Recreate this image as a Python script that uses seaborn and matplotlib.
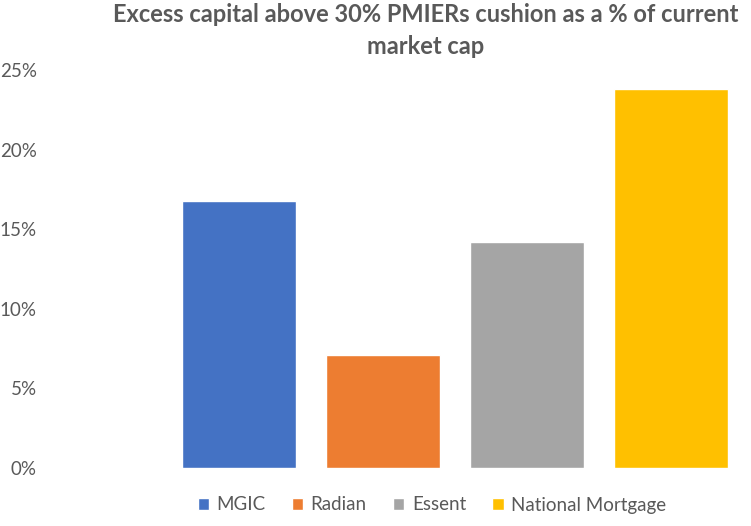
import matplotlib as mpl
import matplotlib.pyplot as plt
import seaborn as sns
import pandas as pd
from matplotlib.ticker import PercentFormatter

mpl.use('agg')

# values
companies = ['MGIC', 'Radian', 'Essent', 'National Mortgage']
excess_capital = [0.168, 0.071, 0.142, 0.238]
bar_colours = ['#4472C4', '#ED7D31', '#A5A5A5', '#FFC000']
y_ticks = [0.0, 0.05, 0.10, 0.15, 0.20, 0.25]

grey = '#595959'

sns.set_theme(style="white")
plt.rcParams['font.family'] = ['Lato', 'DejaVu Sans']

df = pd.DataFrame({'company': companies, 'excess': excess_capital})

fig = plt.figure(figsize=(7.51, 5.26), dpi=100)
ax = fig.add_axes([45 / 751, 1 - 468 / 526, (743 - 45) / 751, (468 - 70) / 526])

sns.barplot(data=df, x='company', y='excess', hue='company',
            palette=bar_colours, width=0.79, saturation=1,
            legend=True, ax=ax)

ax.set_xlim(-1.347, 3.5)
ax.set_ylim(0, 0.25)
ax.set_yticks(y_ticks)
ax.yaxis.set_major_formatter(PercentFormatter(1.0, decimals=0))
ax.tick_params(axis='y', labelsize=13.5, labelcolor=grey, length=0, pad=6)
ax.set_xticks([])
ax.set_xlabel('')
ax.set_ylabel('')
sns.despine(ax=ax, left=True, bottom=True)

leg = ax.legend(loc='center', bbox_to_anchor=(432 / 751, 1 - 505 / 526),
                bbox_transform=fig.transFigure, ncol=4, frameon=False,
                fontsize=13.5, handlelength=0.6, handleheight=0.6,
                handletextpad=0.4, columnspacing=1.4)
for t in leg.get_texts():
    t.set_color(grey)

fig.text(426 / 751, 1 - 3 / 526,
         'Excess capital above 30% PMIERs cushion as a % of current\nmarket cap',
         ha='center', va='top', fontsize=17, fontweight='bold',
         color=grey, linespacing=1.45)

fig.savefig('out.png', dpi=100)
